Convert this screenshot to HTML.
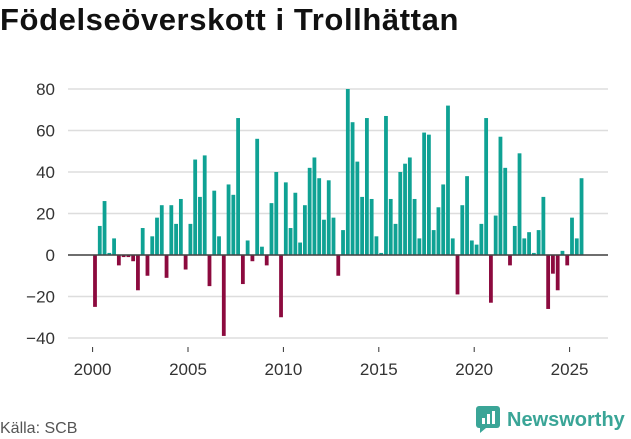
<!DOCTYPE html>
<html><head><meta charset="utf-8"><style>
body{margin:0;width:631px;height:439px;background:#fff;font-family:"Liberation Sans",sans-serif;overflow:hidden}
#title{position:absolute;left:0;top:2px;font-size:31px;font-weight:bold;color:#111;margin:0;letter-spacing:0.6px}
#src{position:absolute;left:0;top:420px;font-size:16px;color:#555}
#logo{position:absolute;left:476px;top:406px;display:flex;align-items:center}
#logo span{font-size:20px;font-weight:bold;color:#3aa597;margin-left:5px}
</style></head><body>
<h1 id="title">Födelseöverskott i Trollhättan</h1>
<svg id="chart" width="631" height="439" style="position:absolute;left:0;top:0"></svg>
<div id="src">Källa: SCB</div>
<div id="logo">
<svg width="26" height="28"><rect x="0" y="0" width="24" height="22" rx="3" fill="#3aa597"/><polygon points="4,22 10,22 4,27" fill="#3aa597"/><rect x="6" y="12" width="3" height="6" fill="#fff"/><rect x="11" y="8" width="3" height="10" fill="#fff"/><rect x="16" y="5" width="3" height="13" fill="#fff"/></svg>
<span>Newsworthy</span></div>
<script>
const startYear = 2000;
const values = [-25,14,26,1,8,-5,-1,-1,-3,-17,13,-10,9,18,24,-11,24,15,27,-7,15,46,28,48,-15,31,9,-39,34,29,66,-14,7,-3,56,4,-5,25,40,-30,35,13,30,6,24,42,47,37,17,36,18,-10,12,80,64,45,28,66,27,9,1,67,27,15,40,44,47,27,8,59,58,12,23,34,72,8,-19,24,38,7,5,15,66,-23,19,57,42,-5,14,49,8,11,1,12,28,-26,-9,-17,2,-5,18,8,37];
const yTicks = [80,60,40,20,0,-20,-40];
const xTicks = [2000,2005,2010,2015,2020,2025];
const svg = document.getElementById('chart');
const NS = 'http://www.w3.org/2000/svg';
const y = v => 255 - v * 2.075;
const x = t => 92.6 + (t - startYear) * 19.08;
function mk(tag, attrs){const e=document.createElementNS(NS,tag);for(const k in attrs)e.setAttribute(k,attrs[k]);svg.appendChild(e);return e;}
yTicks.forEach(t=>{
  const l=mk('line',{x1:68,x2:608,y1:y(t),y2:y(t),stroke:'#ddd','stroke-width':1.5});
  
  
  const tx=mk('text',{x:55,y:y(t)+6,'text-anchor':'end','font-size':17,fill:'#333','font-family':'Liberation Sans, sans-serif'});
  tx.textContent=t===0?'0':(t<0?'−'+(-t):t);
  
  
});
values.forEach((v,i)=>{
  const cx=x(startYear+i/4)+2.4;
  const r=mk('rect',{x:cx-1.9,width:3.8,y:Math.min(y(v),y(0)),height:Math.abs(y(v)-y(0)),fill:v>=0?'#0fa294':'#8c0a3e'});
  
  
});
const b=mk('line',{x1:68,x2:608,y1:y(0),y2:y(0),stroke:'#444','stroke-width':1.5});


xTicks.forEach(t=>{
  const tk=mk('line',{x1:x(t),x2:x(t),y1:347,y2:352,stroke:'#333','stroke-width':1});
  
  
  const tx=mk('text',{x:x(t),y:375,'text-anchor':'middle','font-size':17,fill:'#333','font-family':'Liberation Sans, sans-serif'});
  tx.textContent=t;
  
  
});
</script>
</body></html>
